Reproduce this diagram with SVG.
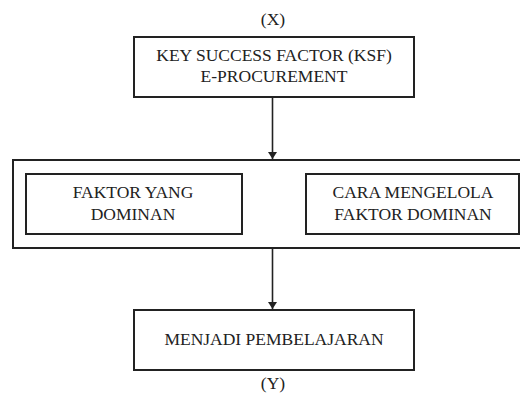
<svg xmlns="http://www.w3.org/2000/svg" width="520" height="394" viewBox="0 0 520 394">
<defs>
<style>
.box{fill:#fff;stroke:#222;stroke-width:2}
.t{font-family:'Liberation Serif',serif;font-size:17.5px;fill:#222;text-anchor:middle}
.c{stroke:#222;stroke-width:1.6;fill:none}
</style>
<marker id="ah" markerWidth="8" markerHeight="9" refX="7" refY="4.5" orient="auto" markerUnits="userSpaceOnUse">
<path d="M0,0 L7,4.5 L0,9 z" fill="#222"/>
</marker>
</defs>
<rect width="520" height="394" fill="#fff"/>
<text class="t" x="273" y="25">(X)</text>
<g id="outer">
<rect class="box" x="13" y="160" width="530" height="88"/>
</g>
<g id="ksf">
<rect class="box" x="134" y="37" width="280" height="60"/>
<text class="t" x="274" y="61">KEY SUCCESS FACTOR (KSF)</text>
<text class="t" x="274" y="82">E-PROCUREMENT</text>
</g>
<g id="faktor">
<rect class="box" x="26" y="174" width="216" height="60"/>
<text class="t" x="133" y="198">FAKTOR YANG</text>
<text class="t" x="133" y="220">DOMINAN</text>
</g>
<g id="cara">
<rect class="box" x="306" y="174" width="213" height="60"/>
<text class="t" x="413" y="197.5">CARA MENGELOLA</text>
<text class="t" x="413" y="219.5">FAKTOR DOMINAN</text>
</g>
<g id="menjadi">
<rect class="box" x="134" y="310" width="280" height="60"/>
<text class="t" x="274" y="345">MENJADI PEMBELAJARAN</text>
</g>
<text class="t" x="273" y="389">(Y)</text>
<g id="connectors">
<line class="c" x1="272.5" y1="98" x2="272.5" y2="159" marker-end="url(#ah)"/>
<line class="c" x1="272.5" y1="249" x2="272.5" y2="309" marker-end="url(#ah)"/>
</g>
</svg>
